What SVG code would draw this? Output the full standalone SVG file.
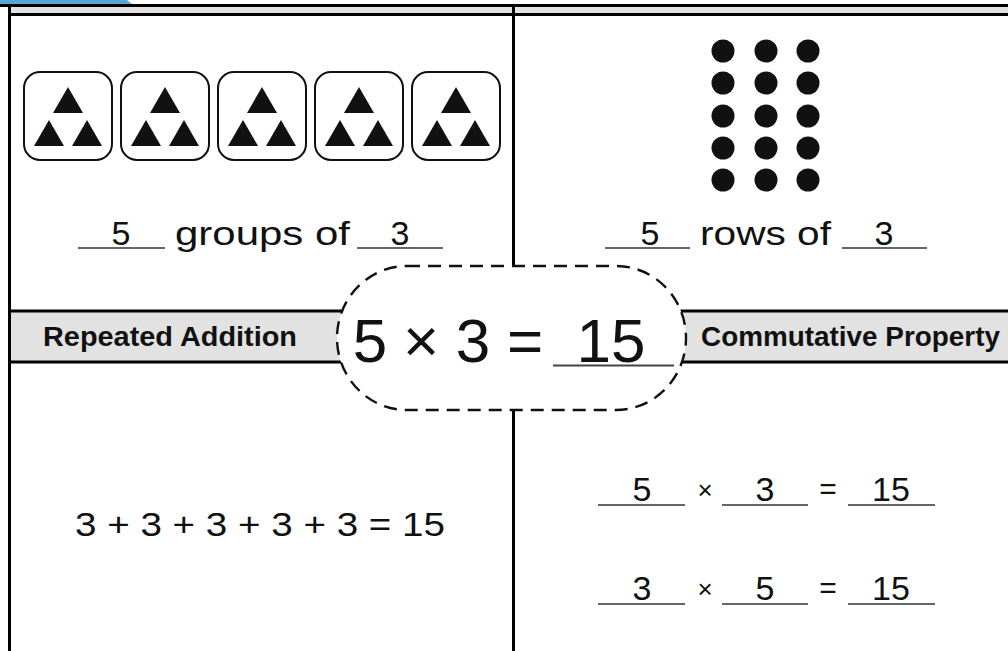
<svg xmlns="http://www.w3.org/2000/svg" width="1008" height="651" viewBox="0 0 1008 651">
<style>
.t{font-family:"Liberation Sans",Arial,sans-serif;fill:#111;}
.h{font-family:"Liberation Sans",Arial,sans-serif;font-weight:bold;font-size:27px;fill:#111;}
.b{font-size:34px;}
.u{stroke:#333;stroke-width:1.6;}
.ln{stroke:#000;stroke-width:3;fill:none;}
.bx{fill:#fff;stroke:#111;stroke-width:2;}
.tri{fill:#111;}
.dot{fill:#111;}
</style>
<defs>
<g id="tris">
<polygon class="tri" points="44,15 29,41 59,41"/>
<polygon class="tri" points="25,48 10,74 40,74"/>
<polygon class="tri" points="63,48 48,74 78,74"/>
</g>
</defs>
<rect width="1008" height="651" fill="#fff"/>
<path d="M0,0 H127 Q130,3 134,5 H0 Z" fill="#56a6dc"/>
<g id="frame">
<rect x="11" y="7" width="997" height="7" fill="#e2e2e2"/>
<line class="ln" x1="0" y1="5.5" x2="1008" y2="5.5"/>
<line class="ln" x1="11" y1="14.5" x2="1008" y2="14.5"/>
<line class="ln" x1="9.5" y1="5" x2="9.5" y2="651"/>
<line class="ln" x1="513.5" y1="5" x2="513.5" y2="651"/>
</g>
<g id="header-bar">
<rect x="11" y="311" width="997" height="51" fill="#e2e2e2"/>
<line class="ln" x1="11" y1="311" x2="1008" y2="311"/>
<line class="ln" x1="11" y1="362" x2="1008" y2="362"/>
</g>
<g id="header-left"><text class="h" x="43" y="346" textLength="254" lengthAdjust="spacingAndGlyphs">Repeated Addition</text></g>
<g id="header-right"><text class="h" x="701" y="346" textLength="299" lengthAdjust="spacingAndGlyphs">Commutative Property</text></g>
<g id="groups">
<rect class="bx" x="24" y="72" width="88" height="88" rx="16"/>
<rect class="bx" x="121" y="72" width="88" height="88" rx="16"/>
<rect class="bx" x="218" y="72" width="88" height="88" rx="16"/>
<rect class="bx" x="315" y="72" width="88" height="88" rx="16"/>
<rect class="bx" x="412" y="72" width="88" height="88" rx="16"/>
<use href="#tris" x="24" y="72"/>
<use href="#tris" x="121" y="72"/>
<use href="#tris" x="218" y="72"/>
<use href="#tris" x="315" y="72"/>
<use href="#tris" x="412" y="72"/>
</g>
<g id="groups-label">
<text x="121" y="245" text-anchor="middle" class="t b">5</text>
<line class="u" x1="78" y1="248" x2="165" y2="248"/>
<text x="175" y="245" class="t b" textLength="175" lengthAdjust="spacingAndGlyphs">groups of</text>
<text x="400" y="245" text-anchor="middle" class="t b">3</text>
<line class="u" x1="357" y1="248" x2="443" y2="248"/>
</g>
<g id="array">
<circle class="dot" cx="723" cy="51" r="11.5"/><circle class="dot" cx="766" cy="51" r="11.5"/><circle class="dot" cx="808" cy="51" r="11.5"/>
<circle class="dot" cx="723" cy="83" r="11.5"/><circle class="dot" cx="766" cy="83" r="11.5"/><circle class="dot" cx="808" cy="83" r="11.5"/>
<circle class="dot" cx="723" cy="116" r="11.5"/><circle class="dot" cx="766" cy="116" r="11.5"/><circle class="dot" cx="808" cy="116" r="11.5"/>
<circle class="dot" cx="723" cy="148" r="11.5"/><circle class="dot" cx="766" cy="148" r="11.5"/><circle class="dot" cx="808" cy="148" r="11.5"/>
<circle class="dot" cx="723" cy="180" r="11.5"/><circle class="dot" cx="766" cy="180" r="11.5"/><circle class="dot" cx="808" cy="180" r="11.5"/>
</g>
<g id="rows-label">
<text x="650" y="245" text-anchor="middle" class="t b">5</text>
<line class="u" x1="605" y1="248" x2="690" y2="248"/>
<text x="700" y="245" class="t b" textLength="131" lengthAdjust="spacingAndGlyphs">rows of</text>
<text x="884" y="245" text-anchor="middle" class="t b">3</text>
<line class="u" x1="842" y1="248" x2="927" y2="248"/>
</g>
<g id="center">
<rect x="337" y="266" width="349" height="144" rx="70" ry="72" fill="#fff" stroke="#111" stroke-width="2.4" stroke-dasharray="13 8"/>
<text x="370" y="362" text-anchor="middle" class="t" font-size="62">5</text>
<text x="421" y="362" text-anchor="middle" class="t" font-size="62">×</text>
<text x="473" y="362" text-anchor="middle" class="t" font-size="62">3</text>
<text x="525" y="362" text-anchor="middle" class="t" font-size="62">=</text>
<text x="611" y="362" text-anchor="middle" class="t" font-size="62">15</text>
<line x1="553" y1="365.5" x2="674" y2="365.5" stroke="#444" stroke-width="2"/>
</g>
<g id="addition">
<text x="75" y="536" class="t b" textLength="370" lengthAdjust="spacingAndGlyphs">3 + 3 + 3 + 3 + 3 = 15</text>
</g>
<g id="commutative">
<text x="642" y="501" text-anchor="middle" class="t b">5</text>
<line class="u" x1="598" y1="505" x2="685" y2="505"/>
<text x="705" y="499" text-anchor="middle" class="t" font-size="26">×</text>
<text x="765" y="501" text-anchor="middle" class="t b">3</text>
<line class="u" x1="722" y1="505" x2="808" y2="505"/>
<text x="828" y="499" text-anchor="middle" class="t" font-size="30">=</text>
<text x="891" y="501" text-anchor="middle" class="t b">15</text>
<line class="u" x1="848" y1="505" x2="935" y2="505"/>
<text x="642" y="600" text-anchor="middle" class="t b">3</text>
<line class="u" x1="598" y1="604" x2="685" y2="604"/>
<text x="705" y="598" text-anchor="middle" class="t" font-size="26">×</text>
<text x="765" y="600" text-anchor="middle" class="t b">5</text>
<line class="u" x1="722" y1="604" x2="808" y2="604"/>
<text x="828" y="598" text-anchor="middle" class="t" font-size="30">=</text>
<text x="891" y="600" text-anchor="middle" class="t b">15</text>
<line class="u" x1="848" y1="604" x2="935" y2="604"/>
</g>
</svg>
